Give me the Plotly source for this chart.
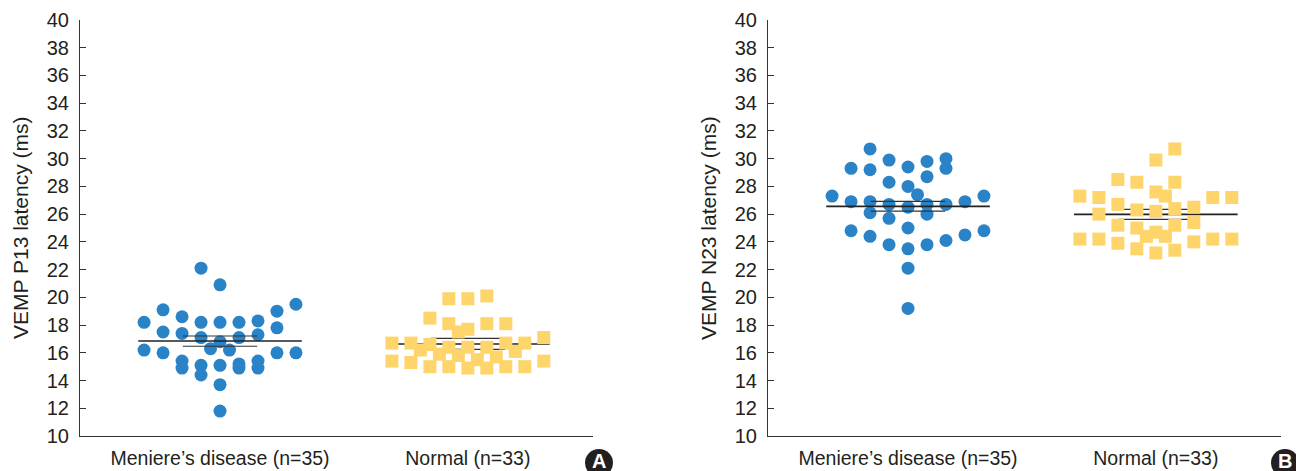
import plotly.graph_objects as go

# ---- data -------------------------------------------------------------
groups = ["Meniere’s disease (n=35)", "Normal (n=33)"]
y_ticks = list(range(10, 41, 2))

# P13 latency (ms) and swarm slot of each point
p13_meniere = [22.1, 20.9, 19.1, 19.5, 18.2, 18.6, 18.2, 18.2, 18.2, 18.3, 19.0,
               17.5, 17.4, 17.1, 16.8, 17.1, 17.3, 17.8, 16.2, 16.0, 16.3, 16.2,
               16.0, 16.0, 15.4, 14.9, 15.1, 14.4, 15.1, 15.2, 14.9, 15.4, 14.9,
               13.7, 11.8]
p13_meniere_slot = [-1, 0, -3, 4, -4, -2, -1, 0, 1, 2, 3,
                    -3, -2, -1, 0, 1, 2, 3, -4, -3, -0.5, 0.5,
                    3, 4, -2, -2, -1, -1, 0, 1, 1, 2, 2,
                    0, 0]
p13_normal = [19.9, 19.9, 20.1, 18.5, 18.1, 17.7, 18.1, 18.1, 17.5, 16.7, 16.7,
              16.6, 16.4, 16.4, 16.4, 16.7, 16.7, 17.1, 16.2, 15.9, 15.8, 15.5,
              15.7, 16.1, 15.4, 15.3, 15.0, 15.0, 14.9, 14.9, 15.0, 15.0, 15.4]
p13_normal_slot = [-1, 0, 1, -2, -1, 0, 1, 2, -0.5, -4, -3,
                   -2, -1, 0, 1, 2, 3, 4, -2.5, -1.5, -0.5, 0.5,
                   1.5, 2.5, -4, -3, -2, -1, 0, 1, 2, 3, 4]

# N23 latency (ms) and swarm slot of each point
n23_meniere = [30.7, 29.3, 29.2, 29.9, 29.4, 29.8, 30.0, 29.3, 28.3, 28.7, 28.0,
               27.4, 27.3, 26.9, 26.9, 26.7, 26.5, 26.7, 26.7, 26.9, 27.3, 26.1,
               25.7, 26.0, 25.0, 24.8, 24.4, 23.8, 23.5, 23.8, 24.1, 24.5, 24.8,
               22.1, 19.2]
n23_meniere_slot = [-2, -3, -2, -1, 0, 1, 2, 2, -1, 1, 0,
                    0.5, -4, -3, -2, -1, 0, 1, 2, 3, 4, -2,
                    -1, 1, 0, -3, -2, -1, 0, 1, 2, 3, 4,
                    0, 0]
n23_normal = [30.7, 29.9, 28.5, 28.3, 28.3, 27.6, 27.3, 27.3, 27.2, 27.2, 27.2,
              26.7, 26.3, 26.2, 26.4, 26.5, 26.0, 25.2, 25.0, 24.7, 24.4, 24.4,
              25.2, 25.4, 24.2, 24.2, 23.9, 23.5, 23.2, 23.4, 24.0, 24.2, 24.2]
n23_normal_slot = [1, 0, -2, -1, 1, 0, 0.5, -4, -3, 3, 4,
                   -2, -1, 0, 1, 2, -3, -2, -1, 0, -0.5, 0.5,
                   1, 2, -4, -3, -2, -1, 0, 1, 2, 3, 4]

# group summaries: mean, lower and upper confidence limit
p13_meniere_stats = [16.85, 16.47, 17.21]
p13_normal_stats = [16.63, 16.25, 17.04]
n23_meniere_stats = [26.56, 26.22, 26.92]
n23_normal_stats = [25.98, 25.62, 26.34]

# ---- style ------------------------------------------------------------
BLUE = "#2a83c7"
YELLOW = "#fdd56b"
FONT = "Liberation Sans, Arial, sans-serif"
SLOT = 0.0766          # horizontal spacing of swarm columns (x units)
MEAN_HALF = 0.33
CI_HALF = 0.15
X_RANGE = [-0.565, 1.505]
W, H = 1296, 471

fig = go.Figure()


def add_group(xa, ya, pos, values, slots, stats, color, symbol, size, lines_on_top):
    xs = [pos + s * SLOT for s in slots]
    marker_trace = go.Scatter(
        x=xs, y=values, mode="markers", xaxis=xa, yaxis=ya,
        marker=dict(color=color, symbol=symbol, size=size, line=dict(width=0)),
        showlegend=False, hoverinfo="y",
    )
    mean, lo, hi = stats
    line_traces = [
        go.Scatter(x=[pos - MEAN_HALF, pos + MEAN_HALF], y=[mean, mean], mode="lines",
                   xaxis=xa, yaxis=ya, line=dict(color="#222222", width=1.6),
                   showlegend=False, hoverinfo="skip"),
    ]
    for v in (lo, hi):
        line_traces.append(
            go.Scatter(x=[pos - CI_HALF, pos + CI_HALF], y=[v, v], mode="lines",
                       xaxis=xa, yaxis=ya, line=dict(color="#333333", width=1.1),
                       showlegend=False, hoverinfo="skip"))
    if lines_on_top:
        fig.add_trace(marker_trace)
        for t in line_traces:
            fig.add_trace(t)
    else:
        for t in line_traces:
            fig.add_trace(t)
        fig.add_trace(marker_trace)


add_group("x", "y", 0, p13_meniere, p13_meniere_slot, p13_meniere_stats, BLUE, "circle", 13, True)
add_group("x", "y", 1, p13_normal, p13_normal_slot, p13_normal_stats, YELLOW, "square", 13, False)
add_group("x2", "y2", 0, n23_meniere, n23_meniere_slot, n23_meniere_stats, BLUE, "circle", 13, True)
add_group("x2", "y2", 1, n23_normal, n23_normal_slot, n23_normal_stats, YELLOW, "square", 13, False)

y_dom = [(H - 436) / H, (H - 20) / H]
xaxis_common = dict(
    range=X_RANGE, tickmode="array", tickvals=[0, 1], ticktext=groups,
    showline=True, linecolor="#333333", linewidth=1, ticks="", showgrid=False,
    zeroline=False, tickfont=dict(family=FONT, size=19.5, color="#231f20"),
    ticklabelstandoff=5, fixedrange=True, automargin=False,
)
yaxis_common = dict(
    range=[10, 40], tickmode="array", tickvals=y_ticks,
    showline=True, linecolor="#333333", linewidth=1, ticks="inside", ticklen=6,
    tickcolor="#333333", showgrid=False, zeroline=False,
    tickfont=dict(family=FONT, size=20, color="#231f20"),
    ticklabelstandoff=6, domain=y_dom, fixedrange=True, automargin=False,
)

fig.update_layout(
    width=W, height=H, margin=dict(l=0, r=0, t=0, b=0, autoexpand=False),
    paper_bgcolor="white", plot_bgcolor="white",
    font=dict(family=FONT, color="#231f20"),
    xaxis=dict(domain=[80 / W, 593 / W], anchor="y", **xaxis_common),
    yaxis=dict(anchor="x", **yaxis_common),
    xaxis2=dict(domain=[768 / W, 1281 / W], anchor="y2", **xaxis_common),
    yaxis2=dict(anchor="x2", **yaxis_common),
)

# rotated axis titles
for xpx, title in [(20, "VEMP P13 latency (ms)"), (708, "VEMP N23 latency (ms)")]:
    fig.add_annotation(
        x=xpx / W, y=(y_dom[0] + y_dom[1]) / 2, xref="paper", yref="paper",
        text=title, textangle=-90, showarrow=False, xanchor="center", yanchor="middle",
        font=dict(family=FONT, size=21, color="#231f20"),
    )

# panel badges
for cx, letter in [(599, "A"), (1285, "B")]:
    cy = H - 463
    r = 14
    fig.add_shape(type="circle", xref="paper", yref="paper",
                  x0=(cx - r) / W, x1=(cx + r) / W, y0=(cy - r) / H, y1=(cy + r) / H,
                  fillcolor="#231f20", line=dict(width=0), layer="above")
    fig.add_annotation(x=cx / W, y=(cy + 2) / H, xref="paper", yref="paper",
                       text=f"<b>{letter}</b>", showarrow=False,
                       xanchor="center", yanchor="middle",
                       font=dict(family=FONT, size=20, color="white"))

fig.write_html("out.html")
